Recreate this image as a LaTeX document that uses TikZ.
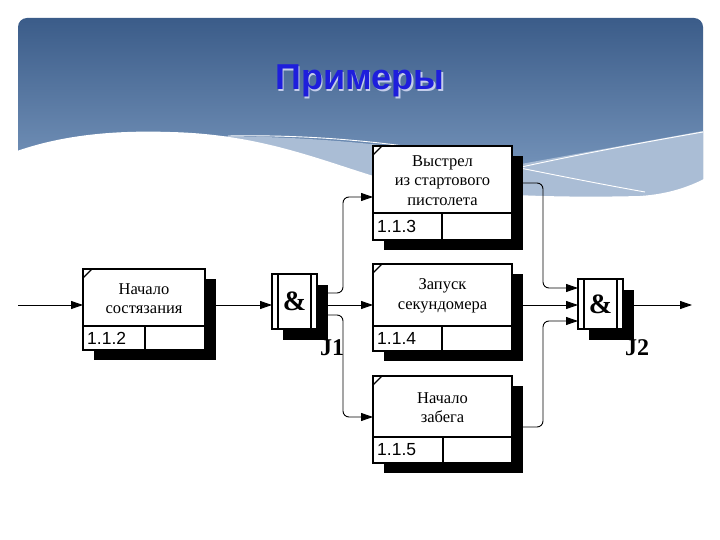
\documentclass[tikz,border=0pt]{standalone}
\usepackage{fontspec}
\setmainfont{Liberation Serif}
\newfontfamily\numfont{Liberation Sans}
\newfontfamily\titlefont{Liberation Sans}
\usetikzlibrary{arrows.meta,calc}
\definecolor{bgtop}{HTML}{3B5C89}
\definecolor{bgbot}{HTML}{8AA8CC}
\definecolor{band}{HTML}{AABDD5}
\definecolor{titleblue}{HTML}{1E1EDC}
\definecolor{titleshadow}{HTML}{C4CDEA}

\tikzset{
  uow/.style={draw=black, line width=1.8pt, fill=white, inner sep=0pt, outer sep=0pt},
  shadowbox/.style={fill=black, draw=none, inner sep=0pt, outer sep=0pt},
  boxline/.style={line width=1.8pt},
  jline/.style={line width=1.3pt},
  cornerline/.style={line width=1.4pt},
  boxtext/.style={align=center, inner sep=0pt, font=\fontsize{16.5}{19.5}\selectfont},
  numtext/.style={inner sep=0pt, font=\numfont\fontsize{17.5}{19}\selectfont},
  amp/.style={inner sep=0pt, font=\bfseries\fontsize{28}{28}\selectfont},
  jlabel/.style={inner sep=0pt, font=\bfseries\fontsize{24}{24}\selectfont},
  conn/.style={draw=black, line width=0.9pt, rounded corners=6pt, -{Triangle[length=12pt,width=8pt]}},
  wline/.style={draw=white, line width=0.9pt}
}

% name, L, T, R, B, divider y, divider x, text, number
\newcommand\uowbox[9]{%
  \node[shadowbox, minimum width={#4-#2}, minimum height={#5-#3}] (#1s) at ({(#2+#4)/2+11},{(#3+#5)/2+10}) {};
  \node[uow, minimum width={#4-#2}, minimum height={#5-#3}] (#1) at ({(#2+#4)/2},{(#3+#5)/2}) {};
  \draw[boxline] (#2,#6) -- (#4,#6) (#7,#6) -- (#7,#5);
  \draw[cornerline] (#2,#3+9) -- (#2+9,#3);
  \node[boxtext] (#1t) at ({(#2+#4)/2},{(#3+#6)/2+1}) {#8};
  \node[numtext, anchor=west] (#1n) at (#2+4,{(#6+#5)/2}) {#9};
}

\begin{document}
\begin{tikzpicture}[x=1pt,y=-1pt]
\useasboundingbox (0,0) rectangle (720,540);
\fill[white] (0,0) rectangle (720,540);

% ---------- background slide ----------
\shade[top color=bgtop, bottom color=bgbot, rounded corners=9pt]
  (18,230) -- (18,18) -- (703,18) -- (703,230) -- cycle;
% light band
\fill[band] (170,137) .. controls (300,133) and (420,146) .. (510,166)
  -- (703,131) -- (703,230) -- (170,230) -- cycle;
% main white wave
\fill[white] (17,151) .. controls (60,136) and (110,130) .. (170,132)
  .. controls (260,134) and (320,160) .. (380,178)
  .. controls (450,196) and (560,198) .. (640,196)
  .. controls (670,194) and (690,186) .. (704,179)
  -- (704,541) -- (17,541) -- cycle;
% thin white lines
\draw[wline] (228,136) .. controls (330,134) and (430,146) .. (510,166)
  .. controls (560,176) and (600,184) .. (645,192);
\draw[wline] (440,186) .. controls (520,166) and (600,150) .. (703,132);

% ---------- title ----------
\node[text=titleshadow, anchor=base, inner sep=0pt, font=\titlefont\bfseries\fontsize{36}{36}\selectfont] (titles) at (361.5,91.5) {Примеры};
\node[text=titleblue, anchor=base, inner sep=0pt, font=\titlefont\bfseries\fontsize{36}{36}\selectfont] (title) at (360,90) {Примеры};

\coordinate (in0) at (18,305);
\coordinate (out0) at (692,305);

% ---------- units of work ----------
\uowbox{bA}{83}{269}{205}{350}{326}{145}{Начало\\состязания}{1.1.2}
\uowbox{bC}{373}{146}{512}{240}{213}{442}{Выстрел\\из стартового\\пистолета}{1.1.3}
\uowbox{bD}{373}{264}{512}{351}{326}{442}{Запуск\\секундомера}{1.1.4}
\uowbox{bE}{373}{376}{512}{463}{437}{443}{Начало\\забега}{1.1.5}

% ---------- junctions ----------
\node[shadowbox, minimum width=45, minimum height=55] (j1s) at (305.5,312.5) {};
\node[uow, minimum width=45, minimum height=55] (j1) at (294.5,301.5) {};
\draw[jline] (278,274) -- (278,329) (311,274) -- (311,329);
\node[amp] (j1a) at (j1) {\&};
\node[jlabel] (j1l) at (332,348) {J1};

\node[shadowbox, minimum width=45, minimum height=50] (j2s) at (611.5,315) {};
\node[uow, minimum width=45, minimum height=50] (j2) at (600.5,304) {};
\draw[jline] (584,279) -- (584,329) (617,279) -- (617,329);
\node[amp] (j2a) at (j2) {\&};
\node[jlabel] (j2l) at (637,348) {J2};

% ---------- connectors ----------
\draw[conn] (in0) -- (bA.west |- in0);
\draw[conn] (bAs.east |- in0) -- (j1.west |- in0);

\draw[conn] (j1s.east |- 0,293) -- (343,293) -- (343,197) -- (bC.west |- 0,197);
\draw[conn] (j1s.east |- 0,305) -- (bD.west |- 0,305);
\draw[conn] (j1s.east |- 0,315) -- (343,315) -- (343,417) -- (bE.west |- 0,417);

\draw[conn] (bCs.east |- 0,183) -- (543,183) -- (543,288) -- (j2.west |- 0,288);
\draw[conn] (bDs.east |- 0,305) -- (j2.west |- 0,305);
\draw[conn] (bEs.east |- 0,427) -- (543,427) -- (543,321) -- (j2.west |- 0,321);

\draw[conn] (j2s.east |- out0) -- (out0);
\end{tikzpicture}
\end{document}
